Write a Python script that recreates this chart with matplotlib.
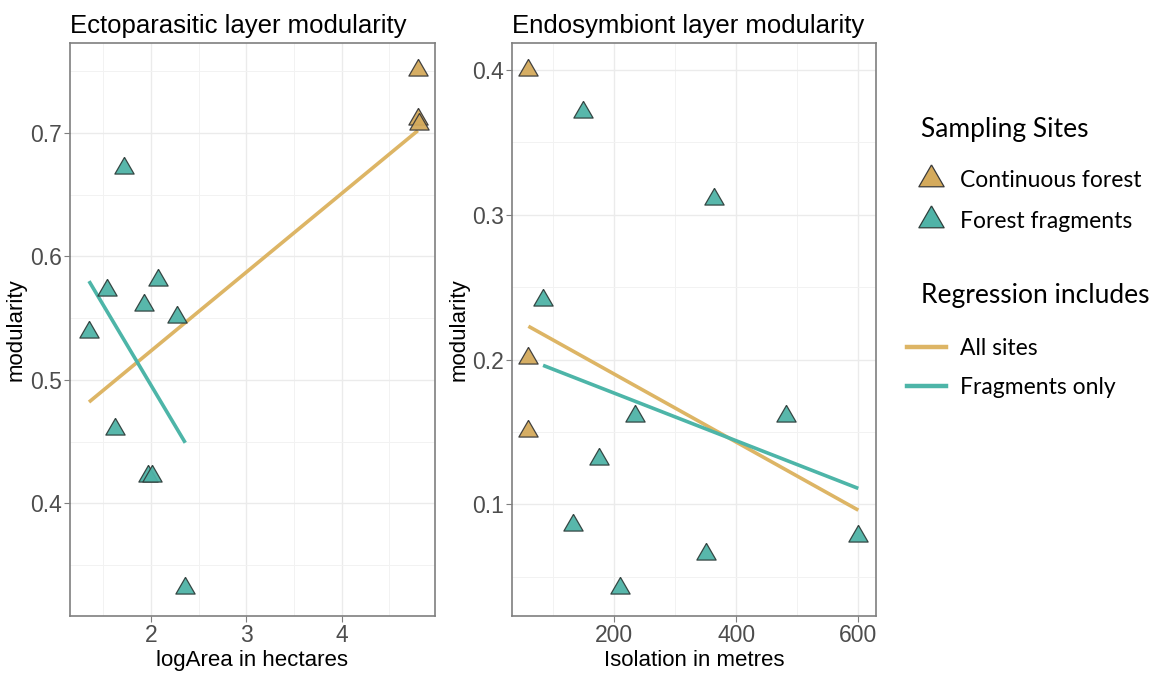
import numpy as np
import matplotlib
matplotlib.use("Agg")
import matplotlib.pyplot as plt
from matplotlib.lines import Line2D
from matplotlib.ticker import MultipleLocator

plt.rcParams['font.family'] = ['Liberation Sans', 'DejaVu Sans']

# colours for the two site types
gold = '#D4AA5C'
teal = '#4FB3A7'
gold_line = '#DDB565'
teal_line = '#4DB5A8'

# --- ectoparasitic layer (left panel) ---
ecto_cont_x = [4.80, 4.80, 4.81]
ecto_cont_y = [0.751, 0.711, 0.707]
ecto_frag_x = [1.72, 1.54, 2.07, 1.93, 2.27, 1.35, 1.62, 1.97, 2.01, 2.36]
ecto_frag_y = [0.672, 0.573, 0.581, 0.561, 0.551, 0.539, 0.460, 0.422, 0.422, 0.331]
# regression line ends
ecto_all_x = [1.35, 4.80]
ecto_all_y = [0.482, 0.702]
ecto_fragfit_x = [1.35, 2.36]
ecto_fragfit_y = [0.580, 0.449]

# --- endosymbiont layer (right panel) ---
endo_cont_x = [60, 60, 60]
endo_cont_y = [0.400, 0.201, 0.151]
endo_frag_x = [150, 364, 84, 235, 481, 176, 133, 350, 210, 600]
endo_frag_y = [0.371, 0.311, 0.241, 0.161, 0.161, 0.131, 0.086, 0.066, 0.042, 0.078]
endo_all_x = [60, 600]
endo_all_y = [0.223, 0.096]
endo_fragfit_x = [84, 600]
endo_fragfit_y = [0.196, 0.111]

site_labels = ['Continuous forest', 'Forest fragments']
reg_labels = ['All sites', 'Fragments only']

# equilateral triangle (like R pch 24)
tri = [(0, 1.155), (-1, -0.577), (1, -0.577), (0, 1.155)]

fig = plt.figure(figsize=(11.64, 6.75), dpi=100)
ax1 = fig.add_axes([0.0601, 0.0874, 0.3136, 0.8489])
ax2 = fig.add_axes([0.4401, 0.0874, 0.3125, 0.8489])


def style(ax):
    ax.set_facecolor('white')
    for s in ax.spines.values():
        s.set_color('#7F7F7F')
        s.set_linewidth(1.2)
    ax.grid(which='major', color='#EBEBEB', lw=1.0, zorder=0)
    ax.grid(which='minor', color='#F2F2F2', lw=0.7, zorder=0)
    ax.tick_params(which='major', colors='#7F7F7F', labelcolor='#4D4D4D', labelsize=16.5, length=4, pad=2)
    ax.tick_params(which='minor', length=0)
    ax.set_axisbelow(True)


def draw(ax, cx, cy, fx, fy, ax_x, ax_y, fx2, fy2):
    ax.plot(ax_x, ax_y, color=gold_line, lw=2.6, zorder=2, solid_capstyle='butt')
    ax.plot(fx2, fy2, color=teal_line, lw=2.6, zorder=2, solid_capstyle='butt')
    ax.plot(cx, cy, ls='none', marker=tri, ms=16, mfc=gold, mec='#3A3A3A', mew=0.9, alpha=0.95, zorder=3)
    ax.plot(fx, fy, ls='none', marker=tri, ms=16, mfc=teal, mec='#2F3F3C', mew=0.9, alpha=0.95, zorder=3)


draw(ax1, ecto_cont_x, ecto_cont_y, ecto_frag_x, ecto_frag_y,
     ecto_all_x, ecto_all_y, ecto_fragfit_x, ecto_fragfit_y)
ax1.set_xlim(1.15, 4.98)
ax1.set_ylim(0.3086, 0.773)
ax1.set_xticks([2, 3, 4])
ax1.set_yticks([0.4, 0.5, 0.6, 0.7])
ax1.xaxis.set_minor_locator(MultipleLocator(0.5))
ax1.yaxis.set_minor_locator(MultipleLocator(0.05))
style(ax1)
ax1.set_xlabel('logArea in hectares', fontsize=16, color='black', labelpad=2)
ax1.set_ylabel('modularity', fontsize=16, color='black', labelpad=2)
ax1.set_title('Ectoparasitic layer modularity', loc='left', fontsize=18.5, pad=7)

draw(ax2, endo_cont_x, endo_cont_y, endo_frag_x, endo_frag_y,
     endo_all_x, endo_all_y, endo_fragfit_x, endo_fragfit_y)
ax2.set_xlim(33.6, 629)
ax2.set_ylim(0.0229, 0.4186)
ax2.set_xticks([200, 400, 600])
ax2.set_yticks([0.1, 0.2, 0.3, 0.4])
ax2.xaxis.set_minor_locator(MultipleLocator(100))
ax2.yaxis.set_minor_locator(MultipleLocator(0.05))
style(ax2)
ax2.set_xlabel('Isolation in metres', fontsize=16, color='black', labelpad=2)
ax2.set_ylabel('modularity', fontsize=16, color='black', labelpad=2)
ax2.set_title('Endosymbiont layer modularity', loc='left', fontsize=18.5, pad=7)

# legends on the right (titles drawn as figure text so they can sit freely)
fig.text(921 / 1164, 1 - 129 / 675, 'Sampling Sites', family='Lato', fontsize=19,
         ha='left', va='center')
fig.text(921 / 1164, 1 - 295 / 675, 'Regression includes', family='Lato', fontsize=19,
         ha='left', va='center')

site_handles = [
    Line2D([], [], ls='none', marker=tri, ms=21, mfc=gold, mec='#3A3A3A', mew=0.9),
    Line2D([], [], ls='none', marker=tri, ms=21, mfc=teal, mec='#2F3F3C', mew=0.9),
]
reg_handles = [
    Line2D([], [], color=gold_line, lw=3.2),
    Line2D([], [], color=teal_line, lw=3.2),
]
leg1 = fig.legend(site_handles, site_labels, loc='center left',
                  bbox_to_anchor=(913 / 1164, 1 - 201 / 675),
                  frameon=False, prop={'family': 'Lato', 'size': 16.5},
                  handlelength=1.6, handletextpad=0.45, labelspacing=0.88,
                  borderaxespad=0, borderpad=0)
leg2 = fig.legend(reg_handles, reg_labels, loc='center left',
                  bbox_to_anchor=(907 / 1164, 1 - 368 / 675),
                  frameon=False, prop={'family': 'Lato', 'size': 16.5},
                  handlelength=1.7, handletextpad=0.6, labelspacing=0.82,
                  borderaxespad=0, borderpad=0)

fig.savefig('out.png', dpi=100, facecolor='white')
